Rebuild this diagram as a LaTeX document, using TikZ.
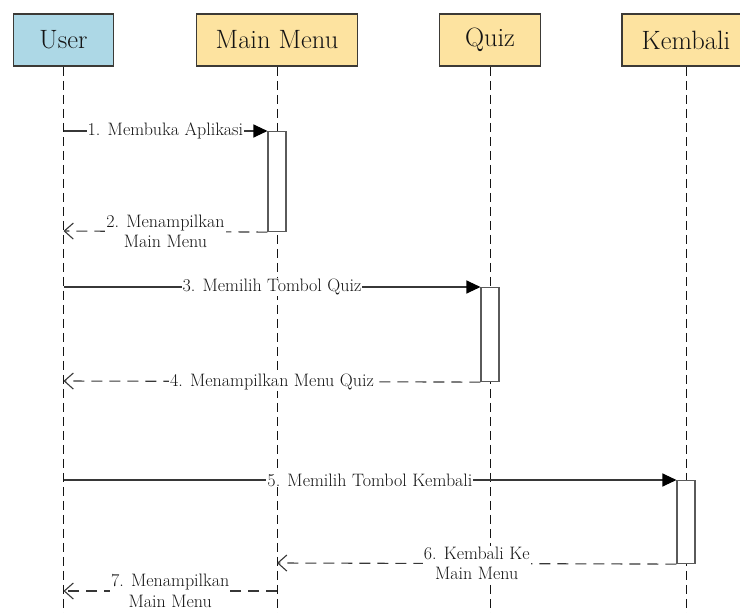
\documentclass[tikz,border=0pt]{standalone}
\usetikzlibrary{arrows.meta}
\definecolor{actorblue}{HTML}{ADD8E6}
\definecolor{objyellow}{HTML}{FDE3A0}
\definecolor{boxline}{HTML}{3C3A36}
\definecolor{actline}{HTML}{5A5A5A}
\definecolor{inkcol}{HTML}{141414}
\tikzset{
  headbox/.style={draw=boxline, line width=1.6pt, minimum height=52pt,
    inner sep=0pt, text=inkcol, font=\fontsize{26.5}{30}\selectfont},
  lifeline/.style={draw=inkcol, line width=1pt, dash pattern=on 9pt off 5pt},
  actbox/.style={draw=actline, line width=1.1pt, fill=white, minimum width=18pt,
    inner sep=0pt, anchor=north},
  callmsg/.style={draw=inkcol!85, line width=1.1pt,
    -{Triangle[length=14pt,width=13pt,color=black]}},
  replymsg/.style={draw=inkcol!85, line width=1.1pt, dash pattern=on 11pt off 7pt,
    -{Straight Barb[length=9pt,width=16pt]}},
  msglabel/.style={fill=white, inner sep=1pt, text=inkcol, align=center,
    font=\fontsize{18}{20.5}\selectfont}
}
\begin{document}
\begin{tikzpicture}[x=1pt,y=-1pt]
\useasboundingbox (0,0) rectangle (740,613);
\fill[white] (0,0) rectangle (740,613);

% lifeline heads
\node[headbox, fill=actorblue, minimum width=100pt] (user) at (63.5,40) {User};
\node[headbox, fill=objyellow, minimum width=161pt] (menu) at (277,40) {Main Menu};
\node[headbox, fill=objyellow, minimum width=101pt] (quiz) at (490,40) {Quiz};
\node[headbox, fill=objyellow, minimum width=128pt] (kembali) at (686,40) {Kembali};

% lifeline ends
\coordinate (userEnd) at (63.5,613);
\coordinate (menuEnd) at (277,613);
\coordinate (quizEnd) at (490,613);
\coordinate (kembaliEnd) at (686,613);
\draw[lifeline] (user.south) -- (userEnd);
\draw[lifeline] (menu.south) -- (menuEnd);
\draw[lifeline] (quiz.south) -- (quizEnd);
\draw[lifeline] (kembali.south) -- (kembaliEnd);

% activation bars
\node[actbox, minimum height=100pt] (actMenu) at (277,131) {};
\node[actbox, minimum height=94pt] (actQuiz) at (490,287) {};
\node[actbox, minimum height=83pt] (actKembali) at (686,480) {};

% message anchors on the user and menu lifelines
\coordinate (u1) at (63.5,131);
\coordinate (u2) at (63.5,231);
\coordinate (u3) at (63.5,287);
\coordinate (u4) at (63.5,381);
\coordinate (u5) at (63.5,480);
\coordinate (u7) at (63.5,591);
\coordinate (m6) at (277,563);
\coordinate (m7) at (277,591);

% messages
\draw[callmsg] (u1) -- node[msglabel] {1. Membuka Aplikasi} (actMenu.north west);
\draw[replymsg] (actMenu.south west) -- node[msglabel] {2. Menampilkan\\Main Menu} (u2);
\draw[callmsg] (u3) -- node[msglabel] {3. Memilih Tombol Quiz} (actQuiz.north west);
\draw[replymsg] (actQuiz.south west) -- node[msglabel] {4. Menampilkan Menu Quiz} (u4);
\draw[callmsg] (u5) -- node[msglabel] {5. Memilih Tombol Kembali} (actKembali.north west);
\draw[replymsg] (actKembali.south west) -- node[msglabel] {6. Kembali Ke\\Main Menu} (m6);
\draw[replymsg] (m7) -- node[msglabel] {7. Menampilkan\\Main Menu} (u7);
\end{tikzpicture}
\end{document}
